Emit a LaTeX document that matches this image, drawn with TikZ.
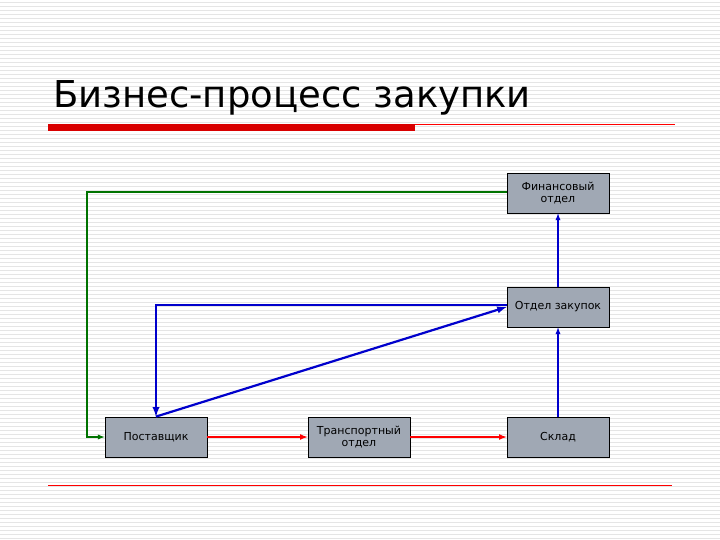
\documentclass[tikz,border=0pt]{standalone}
\usepackage{fontspec}
\setmainfont{DejaVu Sans}
\begin{document}
\begin{tikzpicture}[x=1pt,y=-1pt,
 box/.style={draw=black,line width=0.8pt,minimum width=102pt,minimum height=40pt,align=center,font=\fontsize{11}{12.5}\selectfont,inner sep=1pt},
 thin/.style={line width=1.3pt,-latex},
 thick/.style={line width=2.2pt,-latex}]
\useasboundingbox (0,0) rectangle (720,540);
\fill[white] (0,0) rectangle (720,540);
\foreach \y in {2,6,...,538} \draw[gray!20,line width=0.8pt] (0,\y) -- (720,\y);
\node[anchor=base west,font=\fontsize{37}{42}\selectfont,inner sep=0] (title) at (53,108) {Бизнес-процесс закупки};
\fill[red!85!black] (48,124) rectangle (415,131);
\draw[red,line width=0.9pt] (415,124) -- (675,124);
\draw[red,line width=1pt] (48,485) -- (672,485);
\definecolor{bfill}{RGB}{160,168,180}
\tikzset{box/.append style={fill=bfill}}
\node[box] (fin) at (558,193) {Финансовый\\отдел};
\node[box] (zak) at (558,307) {Отдел закупок};
\node[box] (post) at (156,437) {Поставщик};
\node[box] (tr) at (359,437) {Транспортный\\отдел};
\node[box] (skl) at (558,437) {Склад};
\coordinate (g1) at (87,192);
\coordinate (g2) at (87,437);
\coordinate (b1) at (156,305);
\draw[thin,green!45!black] (fin.west |- g1) -- (g1) -- (g2) -- (post.west);
\draw[thick,blue!80!black] (zak.west |- b1) -- (b1) -- (post.north);
\draw[thick,blue!80!black] (post.north) -- (zak.west);
\draw[thin,blue!80!black] (skl) -- (zak);
\draw[thin,blue!80!black] (zak) -- (fin);
\draw[line width=1.6pt,red,-latex] (post) -- (tr);
\draw[line width=1.6pt,red,-latex] (tr) -- (skl);
\end{tikzpicture}
\end{document}
